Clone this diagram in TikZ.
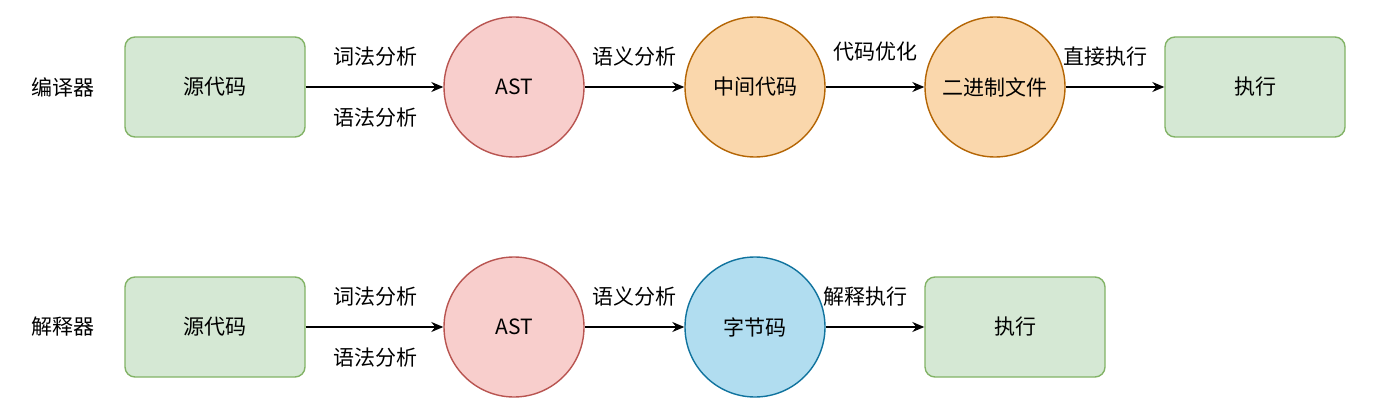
\documentclass[tikz,border=0pt]{standalone}
\usepackage{fontspec}
\setmainfont{Noto Sans CJK SC}
\usetikzlibrary{arrows.meta}
\definecolor{gf}{HTML}{D5E8D4}\definecolor{gs}{HTML}{82B366}
\definecolor{rf}{HTML}{F8CECC}\definecolor{rs}{HTML}{B85450}
\definecolor{of}{HTML}{FAD7AC}\definecolor{os}{HTML}{B46504}
\definecolor{bf}{HTML}{B1DDF0}\definecolor{bs}{HTML}{10739E}
\begin{document}
\begin{tikzpicture}[x=0.5pt,y=-0.5pt,font=\fontsize{10.5}{12}\selectfont,
 box/.style={draw=gs,fill=gf,rounded corners=5pt,minimum width=90pt,minimum height=50pt,line width=0.7pt},
 circ/.style={circle,minimum size=70pt,inner sep=0pt,line width=0.7pt},
 ast/.style={circ,draw=rs,fill=rf},
 mid/.style={circ,draw=os,fill=of},
 byt/.style={circ,draw=bs,fill=bf},
 arr/.style={-{Stealth[length=6pt,width=5pt]},line width=0.7pt}]
\useasboundingbox (0,0) rectangle (1380,406);
\node (l1) at (63,87) {编译器};
\node[box] (s1) at (215,87) {源代码};
\node[ast] (a1) at (514,87) {AST};
\node[mid] (m1) at (755,87) {中间代码};
\node[mid] (b1) at (995,87) {二进制文件};
\node[box] (e1) at (1255,87) {执行};
\draw[arr] (s1) -- (a1);
\draw[arr] (a1) -- (m1);
\draw[arr] (m1) -- (b1);
\draw[arr] (b1) -- (e1);
\node (t1) at (375,57) {词法分析};
\node (t2) at (375,118) {语法分析};
\node (t3) at (634,57) {语义分析};
\node (t4) at (875,52) {代码优化};
\node (t5) at (1105,57) {直接执行};
\node (l2) at (63,327) {解释器};
\node[box] (s2) at (215,327) {源代码};
\node[ast] (a2) at (514,327) {AST};
\node[byt] (c2) at (755,327) {字节码};
\node[box] (e2) at (1015,327) {执行};
\draw[arr] (s2) -- (a2);
\draw[arr] (a2) -- (c2);
\draw[arr] (c2) -- (e2);
\node (u1) at (375,297) {词法分析};
\node (u2) at (375,358) {语法分析};
\node (u3) at (634,297) {语义分析};
\node (u4) at (865,297) {解释执行};
\end{tikzpicture}
\end{document}
